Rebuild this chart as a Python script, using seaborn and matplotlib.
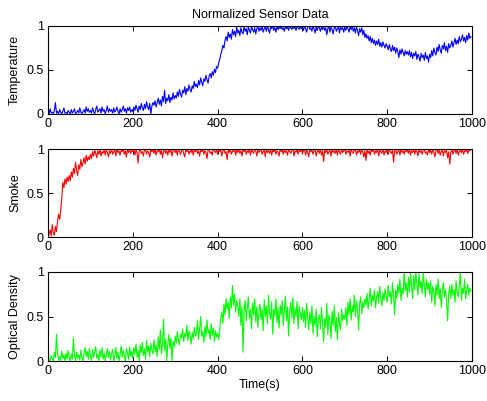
import numpy as np
import pandas as pd
import seaborn as sns
import matplotlib
matplotlib.use("Agg")
import matplotlib.pyplot as plt

# Sampling times (s), one reading every 2.5 s
time_s = np.arange(0, 1000, 2.5)

temperature = [
    0.03, 0.00, 0.06, 0.01, 0.02, 0.00, 0.04, 0.13, 0.01, 0.03, 0.00, 0.05, 0.02, 0.00, 0.03, 0.07, 0.01, 0.02, 0.00, 0.04,
    0.02, 0.00, 0.05, 0.01, 0.03, 0.06, 0.00, 0.02, 0.04, 0.01, 0.07, 0.02, 0.00, 0.03, 0.05, 0.01, 0.08, 0.03, 0.06, 0.02,
    0.04, 0.01, 0.07, 0.03, 0.00, 0.05, 0.09, 0.02, 0.04, 0.06, 0.01, 0.08, 0.03, 0.05, 0.00, 0.04, 0.09, 0.02, 0.06, 0.03,
    0.05, 0.01, 0.07, 0.02, 0.04, 0.08, 0.03, 0.00, 0.06, 0.02, 0.05, 0.09, 0.03, 0.06, 0.01, 0.07, 0.04, 0.08, 0.02, 0.05,
    0.03, 0.08, 0.04, 0.10, 0.06, 0.02, 0.09, 0.05, 0.12, 0.07, 0.04, 0.11, 0.06, 0.14, 0.08, 0.05, 0.12, 0.00, 0.09, 0.13,
    0.10, 0.15, 0.08, 0.13, 0.18, 0.11, 0.16, 0.09, 0.20, 0.14, 0.27, 0.12, 0.18, 0.15, 0.22, 0.13, 0.19, 0.16, 0.24, 0.17,
    0.21, 0.18, 0.25, 0.20, 0.28, 0.23, 0.19, 0.27, 0.24, 0.31, 0.22, 0.29, 0.26, 0.33, 0.28, 0.25, 0.32, 0.29, 0.37, 0.31,
    0.34, 0.30, 0.38, 0.33, 0.41, 0.36, 0.32, 0.40, 0.37, 0.44, 0.39, 0.35, 0.43, 0.46, 0.41, 0.48, 0.44, 0.51, 0.47, 0.54,
    0.52, 0.58, 0.62, 0.68, 0.72, 0.78, 0.75, 0.84, 0.88, 0.83, 0.93, 0.87, 0.91, 0.85, 0.96, 0.90, 0.94, 0.88, 0.99, 0.92,
    0.95, 0.89, 0.98, 0.93, 0.91, 1.00, 0.94, 0.97, 0.90, 0.99, 0.95, 0.92, 1.00, 0.96, 0.93, 0.98, 0.91, 0.97, 1.00, 0.94,
    0.98, 0.95, 1.00, 0.93, 0.97, 0.99, 0.94, 1.00, 0.96, 0.92, 0.99, 0.97, 1.00, 0.95, 0.98, 0.93, 1.00, 0.96, 0.99, 0.97,
    1.00, 0.96, 0.98, 0.94, 1.00, 0.97, 0.99, 0.95, 1.00, 0.98, 0.96, 1.00, 0.97, 0.99, 0.95, 1.00, 0.98, 0.96, 1.00, 0.97,
    0.99, 0.95, 1.00, 0.97, 0.93, 0.99, 1.00, 0.96, 0.98, 0.94, 1.00, 0.97, 0.92, 0.99, 0.95, 1.00, 0.98, 0.94, 0.99, 0.96,
    1.00, 0.95, 0.98, 0.90, 0.97, 1.00, 0.93, 0.99, 0.96, 0.91, 0.98, 1.00, 0.94, 0.97, 0.99, 0.92, 1.00, 0.96, 0.98, 0.93,
    0.99, 0.95, 1.00, 0.97, 0.93, 0.99, 0.96, 1.00, 0.94, 0.98, 0.92, 0.99, 0.95, 0.89, 0.97, 0.93, 0.98, 0.90, 0.95, 0.87,
    0.91, 0.86, 0.89, 0.83, 0.88, 0.81, 0.86, 0.80, 0.84, 0.78, 0.83, 0.79, 0.85, 0.77, 0.81, 0.76, 0.82, 0.78, 0.75, 0.80,
    0.77, 0.73, 0.79, 0.74, 0.71, 0.78, 0.72, 0.76, 0.69, 0.75, 0.71, 0.64, 0.73, 0.68, 0.74, 0.70, 0.66, 0.72, 0.68, 0.71,
    0.67, 0.72, 0.65, 0.70, 0.63, 0.69, 0.66, 0.71, 0.62, 0.68, 0.65, 0.60, 0.69, 0.64, 0.67, 0.61, 0.70, 0.63, 0.66, 0.59,
    0.68, 0.64, 0.72, 0.66, 0.75, 0.70, 0.67, 0.76, 0.71, 0.79, 0.73, 0.69, 0.78, 0.74, 0.81, 0.72, 0.77, 0.70, 0.80, 0.75,
    0.78, 0.83, 0.76, 0.81, 0.86, 0.79, 0.84, 0.80, 0.88, 0.82, 0.85, 0.90, 0.83, 0.87, 0.81, 0.89, 0.84, 0.92, 0.86, 0.88,
]

smoke = [
    0.00, 0.03, 0.08, 0.01, 0.14, 0.05, 0.02, 0.12, 0.06, 0.18, 0.26, 0.20, 0.30, 0.45, 0.62, 0.56, 0.66, 0.60, 0.68, 0.63,
    0.70, 0.64, 0.74, 0.68, 0.78, 0.72, 0.85, 0.76, 0.70, 0.82, 0.77, 0.88, 0.80, 0.84, 0.90, 0.83, 0.93, 0.86, 0.91, 0.88,
    0.94, 0.89, 0.97, 0.92, 0.99, 0.95, 0.90, 0.98, 0.94, 1.00, 0.92, 0.97, 0.95, 0.99, 0.93, 1.00, 0.96, 0.91, 0.98, 0.95,
    1.00, 0.94, 0.97, 0.99, 0.92, 1.00, 0.96, 0.98, 0.93, 0.99, 0.97, 1.00, 0.94, 0.98, 0.91, 0.99, 0.96, 1.00, 0.95, 0.98,
    0.97, 1.00, 0.93, 0.99, 0.96, 0.84, 0.98, 1.00, 0.95, 0.97, 0.92, 0.99, 1.00, 0.94, 0.98, 0.96, 0.91, 1.00, 0.97, 0.99,
    0.95, 1.00, 0.93, 0.98, 0.97, 1.00, 0.94, 0.99, 0.90, 0.97, 1.00, 0.95, 0.98, 0.93, 1.00, 0.96, 0.99, 0.92, 0.98, 1.00,
    0.96, 0.99, 0.93, 1.00, 0.97, 0.94, 0.98, 1.00, 0.95, 0.91, 0.99, 0.97, 1.00, 0.94, 0.98, 0.96, 1.00, 0.93, 0.99, 0.97,
    1.00, 0.95, 0.98, 0.92, 0.99, 0.97, 1.00, 0.94, 0.98, 0.96, 0.89, 0.99, 1.00, 0.95, 0.97, 0.93, 1.00, 0.98, 0.96, 0.99,
    0.94, 1.00, 0.97, 0.99, 0.92, 0.98, 1.00, 0.95, 0.97, 0.88, 0.99, 0.96, 1.00, 0.94, 0.98, 0.97, 1.00, 0.93, 0.99, 0.96,
    1.00, 0.95, 0.98, 0.92, 0.99, 0.97, 1.00, 0.94, 0.98, 0.96, 1.00, 0.93, 0.99, 0.97, 0.95, 1.00, 0.98, 0.92, 0.99, 0.96,
    0.98, 1.00, 0.94, 0.97, 0.99, 0.91, 1.00, 0.96, 0.98, 0.95, 1.00, 0.93, 0.99, 0.97, 1.00, 0.94, 0.98, 0.96, 0.92, 1.00,
    0.97, 0.99, 0.94, 1.00, 0.96, 0.98, 0.93, 1.00, 0.97, 0.95, 0.99, 1.00, 0.92, 0.98, 0.96, 1.00, 0.94, 0.99, 0.97, 1.00,
    0.95, 0.98, 1.00, 0.93, 0.99, 0.96, 0.91, 1.00, 0.97, 0.99, 0.94, 0.98, 1.00, 0.92, 0.97, 0.99, 0.95, 1.00, 0.93, 0.98,
    0.86, 0.99, 0.96, 1.00, 0.94, 0.97, 0.99, 0.92, 1.00, 0.96, 0.98, 0.95, 1.00, 0.93, 0.99, 0.97, 0.94, 1.00, 0.96, 0.98,
    1.00, 0.94, 0.98, 0.96, 0.99, 0.92, 1.00, 0.97, 0.95, 0.99, 1.00, 0.93, 0.98, 0.96, 1.00, 0.94, 0.99, 0.97, 0.91, 0.98,
    0.87, 1.00, 0.95, 0.98, 0.93, 0.99, 0.97, 1.00, 0.94, 0.98, 0.96, 1.00, 0.92, 0.99, 0.97, 0.95, 1.00, 0.93, 0.98, 0.96,
    0.99, 0.94, 1.00, 0.97, 0.95, 0.99, 0.85, 0.98, 1.00, 0.94, 0.97, 0.99, 0.93, 1.00, 0.96, 0.98, 0.94, 1.00, 0.97, 0.99,
    0.95, 1.00, 0.93, 0.98, 0.96, 1.00, 0.94, 0.99, 0.97, 0.92, 1.00, 0.96, 0.98, 0.94, 0.99, 1.00, 0.95, 0.97, 0.93, 1.00,
    0.96, 0.99, 0.94, 1.00, 0.97, 0.91, 0.98, 1.00, 0.95, 0.99, 0.93, 0.97, 1.00, 0.92, 0.98, 0.96, 0.99, 0.90, 0.97, 0.83,
    0.96, 1.00, 0.94, 0.98, 0.99, 0.95, 1.00, 0.93, 0.97, 0.99, 0.96, 1.00, 0.94, 0.98, 0.97, 1.00, 0.95, 0.99, 0.98, 1.00,
]

optical_density = [
    0.12, 0.02, 0.00, 0.06, 0.03, 0.00, 0.10, 0.04, 0.30, 0.08, 0.01, 0.05, 0.00, 0.11, 0.03, 0.07, 0.00, 0.09, 0.02, 0.12,
    0.04, 0.00, 0.08, 0.02, 0.26, 0.05, 0.00, 0.10, 0.03, 0.07, 0.01, 0.12, 0.04, 0.00, 0.09, 0.15, 0.05, 0.11, 0.02, 0.14,
    0.06, 0.00, 0.13, 0.04, 0.10, 0.16, 0.03, 0.08, 0.00, 0.12, 0.05, 0.15, 0.02, 0.09, 0.00, 0.07, 0.14, 0.04, 0.11, 0.01,
    0.08, 0.13, 0.00, 0.06, 0.15, 0.03, 0.10, 0.00, 0.07, 0.17, 0.04, 0.12, 0.06, 0.00, 0.14, 0.09, 0.02, 0.16, 0.05, 0.11,
    0.03, 0.15, 0.08, 0.19, 0.04, 0.12, 0.00, 0.18, 0.09, 0.21, 0.06, 0.14, 0.02, 0.23, 0.10, 0.17, 0.05, 0.20, 0.12, 0.08,
    0.24, 0.10, 0.18, 0.05, 0.27, 0.13, 0.35, 0.08, 0.20, 0.47, 0.12, 0.25, 0.00, 0.19, 0.30, 0.14, 0.26, 0.00, 0.22, 0.16,
    0.28, 0.20, 0.33, 0.24, 0.18, 0.30, 0.26, 0.36, 0.22, 0.31, 0.27, 0.40, 0.23, 0.34, 0.29, 0.19, 0.32, 0.25, 0.38, 0.28,
    0.30, 0.45, 0.24, 0.36, 0.50, 0.28, 0.33, 0.21, 0.39, 0.27, 0.46, 0.31, 0.35, 0.24, 0.42, 0.29, 0.37, 0.22, 0.34, 0.27,
    0.31, 0.24, 0.36, 0.48, 0.55, 0.42, 0.64, 0.52, 0.70, 0.58, 0.66, 0.48, 0.72, 0.60, 0.85, 0.63, 0.75, 0.55, 0.68, 0.62,
    0.50, 0.70, 0.40, 0.62, 0.10, 0.55, 0.68, 0.45, 0.60, 0.72, 0.48, 0.58, 0.36, 0.65, 0.52, 0.70, 0.44, 0.61, 0.38, 0.56,
    0.64, 0.46, 0.58, 0.34, 0.69, 0.50, 0.62, 0.42, 0.74, 0.55, 0.47, 0.66, 0.30, 0.58, 0.51, 0.70, 0.43, 0.60, 0.37, 0.63,
    0.52, 0.68, 0.40, 0.57, 0.73, 0.45, 0.61, 0.28, 0.55, 0.66, 0.48, 0.71, 0.42, 0.59, 0.50, 0.67, 0.36, 0.62, 0.54, 0.46,
    0.60, 0.44, 0.57, 0.38, 0.65, 0.49, 0.35, 0.55, 0.42, 0.62, 0.31, 0.50, 0.40, 0.58, 0.27, 0.46, 0.52, 0.36, 0.60, 0.43,
    0.22, 0.48, 0.38, 0.65, 0.30, 0.52, 0.44, 0.25, 0.56, 0.40, 0.62, 0.33, 0.49, 0.24, 0.54, 0.42, 0.35, 0.58, 0.45, 0.52,
    0.47, 0.60, 0.40, 0.66, 0.52, 0.70, 0.46, 0.62, 0.55, 0.74, 0.50, 0.68, 0.58, 0.35, 0.64, 0.72, 0.53, 0.66, 0.60, 0.70,
    0.63, 0.76, 0.58, 0.70, 0.82, 0.62, 0.74, 0.67, 0.80, 0.60, 0.72, 0.78, 0.65, 0.84, 0.70, 0.62, 0.77, 0.68, 0.81, 0.73,
    0.66, 0.85, 0.72, 0.78, 0.64, 0.88, 0.74, 0.52, 0.80, 0.70, 0.86, 0.76, 0.92, 0.68, 0.82, 0.75, 1.00, 0.79, 0.88, 0.72,
    0.94, 0.78, 1.00, 0.84, 0.70, 0.96, 0.80, 1.00, 0.86, 0.74, 0.98, 0.82, 0.90, 0.76, 1.00, 0.85, 0.72, 0.92, 0.80, 0.88,
    0.75, 0.90, 0.66, 0.84, 0.78, 0.62, 0.86, 0.74, 0.92, 0.70, 0.82, 0.60, 0.78, 0.88, 0.72, 0.80, 0.68, 0.45, 0.76, 0.84,
    0.70, 0.86, 0.74, 0.80, 0.66, 0.90, 0.78, 0.72, 0.84, 1.00, 0.68, 0.82, 0.76, 0.92, 0.70, 0.80, 0.86, 0.74, 0.82, 0.78,
]

panel_labels = ["Temperature", "Smoke", "Optical Density"]
panel_colors = ["#0000ff", "#ff0000", "#00ff00"]
x_ticks = [0, 200, 400, 600, 800, 1000]
y_ticks = [0, 0.5, 1]
y_tick_labels = ["0", "0.5", "1"]

sns.set_theme(style="white")
plt.rcParams["font.family"] = ["Liberation Sans", "DejaVu Sans"]
plt.rcParams["font.size"] = 9

df = pd.DataFrame({
    "Time(s)": time_s,
    "Temperature": temperature,
    "Smoke": smoke,
    "Optical Density": optical_density,
})

fig = plt.figure(figsize=(4.87, 4.01), dpi=100)
W, H = 487, 401
# axes boxes in pixels: (left, top, right, bottom)
boxes = [(48, 26, 472, 114), (48, 149, 472, 237), (48, 272, 472, 361)]

for (l, t, r, b), name, col in zip(boxes, panel_labels, panel_colors):
    ax = fig.add_axes([l / W, 1 - b / H, (r - l) / W, (b - t) / H])
    sns.lineplot(data=df, x="Time(s)", y=name, ax=ax, color=col,
                 linewidth=0.8, estimator=None)
    ax.set_xlim(0, 1000)
    ax.set_ylim(0, 1)
    ax.set_xticks(x_ticks)
    ax.set_xticklabels([str(v) for v in x_ticks], fontsize=9)
    ax.set_yticks(y_ticks)
    ax.set_yticklabels(y_tick_labels, fontsize=9)
    ax.tick_params(direction="in", length=3.5, width=0.7, color="black",
                   top=True, right=True, bottom=True, left=True, pad=3,
                   labelcolor="black")
    for sp in ax.spines.values():
        sp.set_visible(True)
        sp.set_color("black")
        sp.set_linewidth(0.8)
    ax.set_ylabel(name, fontsize=9, color="black", labelpad=4)
    ax.set_xlabel("")
    ax.set_facecolor("white")
    if name == "Temperature":
        ax.set_title("Normalized Sensor Data", fontsize=9, color="black", pad=6)
    if name == "Optical Density":
        ax.set_xlabel("Time(s)", fontsize=9, color="black", labelpad=1)

fig.savefig("out.png", dpi=100, facecolor="white")
